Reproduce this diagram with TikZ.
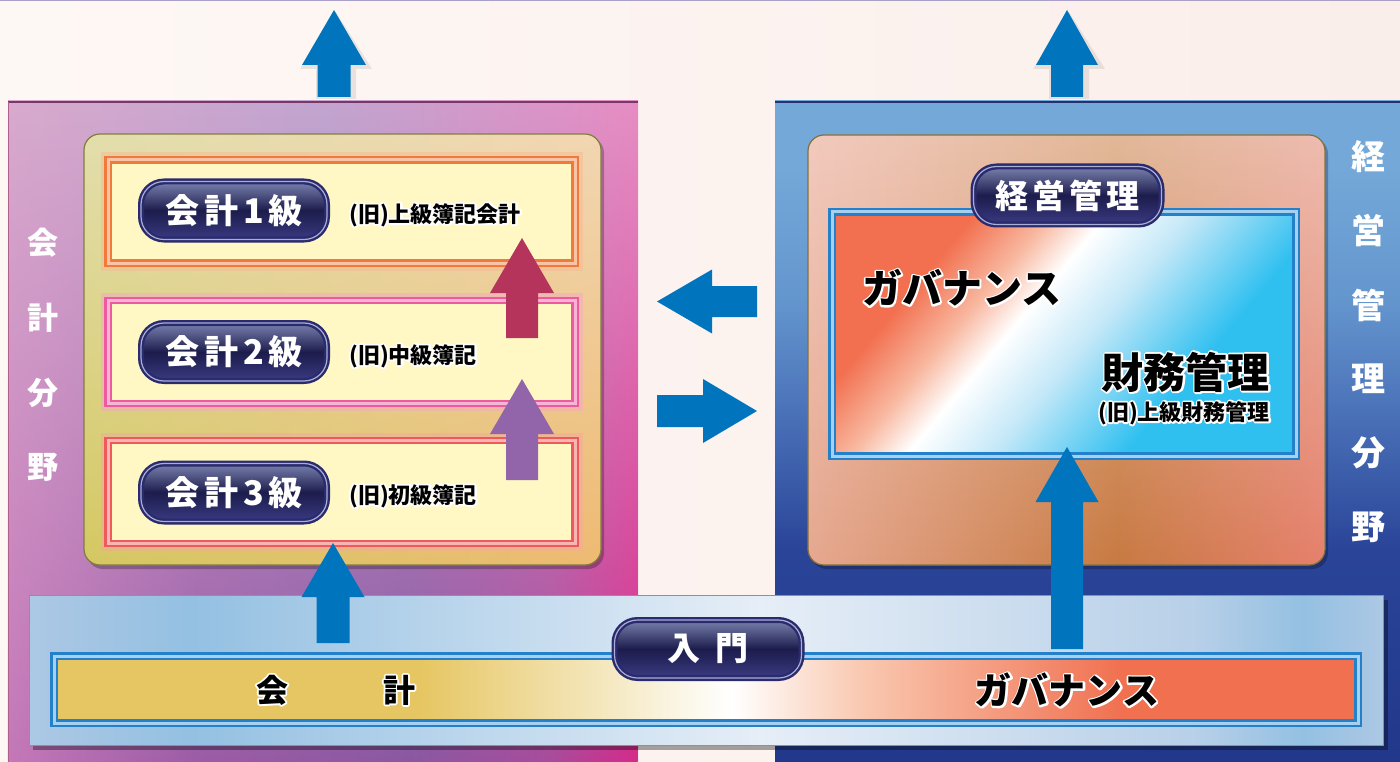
\documentclass[tikz,border=0pt]{standalone}
\usepackage{fontspec}
\setmainfont{Noto Sans CJK JP}
\usetikzlibrary{calc,fadings,shadings}

\definecolor{arrBlue}{HTML}{0075BE}
\definecolor{crimson}{HTML}{B4345C}
\definecolor{violet}{HTML}{9264AA}
\definecolor{cream}{HTML}{FFF8C4}
\definecolor{boxOrange}{HTML}{F07A3A}
\definecolor{boxPink}{HTML}{EE5AA0}
\definecolor{boxRed}{HTML}{EE5A5A}
\definecolor{bdOut}{HTML}{2A2A6E}
\definecolor{bdHi}{HTML}{A8AED4}
\definecolor{bdTop}{HTML}{7A82AE}
\definecolor{bdMid}{HTML}{1C1C4C}
\definecolor{bdBot}{HTML}{3A3A82}
\definecolor{bfOut}{HTML}{2480C8}
\definecolor{bfHi}{HTML}{A6D0F0}
\definecolor{lt1}{HTML}{D8AACE}
\definecolor{lt2}{HTML}{C2A6D0}
\definecolor{lt3}{HTML}{E68EC4}
\definecolor{lb1}{HTML}{C478B8}
\definecolor{lb2}{HTML}{9C5CA6}
\definecolor{lb3}{HTML}{8A58A2}
\definecolor{lb4}{HTML}{A84C9C}
\definecolor{lb5}{HTML}{D42A8A}
\definecolor{rp1}{HTML}{22388A}
\definecolor{rp2}{HTML}{2A4498}
\definecolor{rp3}{HTML}{4C74BA}
\definecolor{rp4}{HTML}{6496CE}
\definecolor{rp5}{HTML}{74A8D8}
\definecolor{bn1}{HTML}{ACC8E4}
\definecolor{bn2}{HTML}{94C0E2}
\definecolor{bn3}{HTML}{E6EEF7}
\definecolor{bn4}{HTML}{B8D0E8}
\definecolor{st1}{HTML}{E6C662}
\definecolor{st2}{HTML}{F9C8B0}
\definecolor{st3}{HTML}{F07050}
\definecolor{gv1}{HTML}{F27050}
\definecolor{gv2}{HTML}{F8B8A0}
\definecolor{gv3}{HTML}{C4E8F8}
\definecolor{gv4}{HTML}{30C0F0}
\definecolor{rt1}{HTML}{F2CABE}
\definecolor{rt2}{HTML}{E2B898}
\definecolor{rt3}{HTML}{EEBCB0}
\definecolor{rb1}{HTML}{E6A890}
\definecolor{rb2}{HTML}{C87A42}
\definecolor{rb3}{HTML}{E6806C}
\definecolor{pageL}{HTML}{FEF8F5}
\definecolor{pageR}{HTML}{FAEEEA}
\definecolor{topLine}{HTML}{A8A0C8}
\definecolor{lpTop}{HTML}{7A3868}
\definecolor{lpEdge}{HTML}{B0608C}
\definecolor{rpTop}{HTML}{283070}
\definecolor{lpInUL}{HTML}{E2DEAC}
\definecolor{lpInUR}{HTML}{F2D6B2}
\definecolor{lpInLL}{HTML}{D4C862}
\definecolor{lpInLR}{HTML}{EEBA72}
\definecolor{lpInBd}{HTML}{827C40}
\definecolor{rpInBd}{HTML}{827040}
\definecolor{bandBd}{HTML}{7896B8}

\pgfdeclarehorizontalshading{leftTop}{100bp}{color(0bp)=(lt1); color(25bp)=(lt1); color(50bp)=(lt2); color(75bp)=(lt3); color(100bp)=(lt3)}
\pgfdeclarehorizontalshading{leftBot}{100bp}{color(0bp)=(lb1); color(25bp)=(lb1); color(40bp)=(lb2); color(57bp)=(lb3); color(68bp)=(lb4); color(75bp)=(lb5); color(100bp)=(lb5)}
\pgfdeclareverticalshading{rightPanel}{100bp}{color(0bp)=(rp1); color(25bp)=(rp1); color(41bp)=(rp2); color(52bp)=(rp3); color(60bp)=(rp4); color(70bp)=(rp5); color(100bp)=(rp5)}
\pgfdeclarehorizontalshading{band}{100bp}{color(0bp)=(bn1); color(25bp)=(bn1); color(31bp)=(bn2); color(52bp)=(bn3); color(68bp)=(bn4); color(72bp)=(bn2); color(75bp)=(bn1); color(100bp)=(bn1)}
\pgfdeclarehorizontalshading{stripe}{100bp}{color(0bp)=(st1); color(25bp)=(st1); color(39bp)=(st1); color(51bp)=(white); color(56bp)=(st2); color(66bp)=(st3); color(75bp)=(st3); color(100bp)=(st3)}
\pgfdeclarehorizontalshading{gov}{100bp}{color(0bp)=(gv1); color(25bp)=(gv1); color(30bp)=(gv1); color(38bp)=(gv2); color(44bp)=(white); color(53bp)=(gv3); color(67bp)=(gv4); color(100bp)=(gv4)}
\pgfdeclarehorizontalshading{rTop}{100bp}{color(0bp)=(rt1); color(25bp)=(rt1); color(55bp)=(rt2); color(75bp)=(rt3); color(100bp)=(rt3)}
\pgfdeclarehorizontalshading{rBot}{100bp}{color(0bp)=(rb1); color(25bp)=(rb1); color(55bp)=(rb2); color(75bp)=(rb3); color(100bp)=(rb3)}

\tikzfading[name=fadedown, top color=transparent!100, middle color=transparent!62, bottom color=transparent!0]

% white halo round black text: stroked copy, then the text itself
\newcommand\halo[1]{\leavevmode\rlap{\special{pdf:literal direct q 1 Tr 3.6 w 1 J 1 j 1 1 1 RG}#1\special{pdf:literal direct 0 Tr Q}}#1}

% block arrow: #1 colour, #2 tail, #3 tip, #4 half shaft, #5 half head, #6 head length
\newcommand\blockarrow[6]{%
  \coordinate (hb) at ($(#3)!#6!(#2)$);
  \fill[#1] (#3) -- ($(hb)!#5!90:(#3)$) -- ($(hb)!#4!90:(#3)$) -- ($(#2)!#4!90:(#3)$)
     -- ($(#2)!#4!-90:(#3)$) -- ($(hb)!#4!-90:(#3)$) -- ($(hb)!#5!-90:(#3)$) -- cycle;}

\begin{document}
\begin{tikzpicture}[x=1pt,y=-1pt,
  badge/.style={draw=bdOut, line width=2.4pt, double=bdHi, double distance=1.2pt,
    rounded corners=23pt, top color=bdTop, bottom color=bdBot, middle color=bdMid,
    text=white, inner sep=0pt, font=\fontsize{34}{34}\selectfont\bfseries},
  lvlbox/.style={draw=#1, double=#1!45!white, line width=2.4pt, double distance=3pt,
    fill=cream, minimum width=467pt, minimum height=103pt, inner sep=0pt},
  glow/.style={draw=#1!55!white, line width=11pt, opacity=0.45},
  sub/.style={anchor=west, text=black, inner sep=0pt, font=\fontsize{22}{22}\selectfont\bfseries},
  side/.style={text=white, inner sep=0pt, font=\fontsize{31}{31}\selectfont\bfseries},
  big/.style={text=black, inner sep=0pt, font=\fontsize{40}{40}\selectfont\bfseries},
  blueframe/.style={draw=bfOut, double=bfHi, line width=2.5pt, double distance=3pt, inner sep=0pt},
  panelshadow/.style={fill=black, opacity=0.25, rounded corners=16pt},
  arrshadow/.style={fill=black, opacity=0.08}
]
\useasboundingbox (0,0) rectangle (1400,762);
% page background
\shade[left color=pageL, right color=pageR] (0,0) rectangle (1400,762);
\draw[topLine, line width=1.5pt] (0,0.75) -- (1400,0.75);

% left panel
\shade[shading=leftTop] (8,101) rectangle (638,762);
\shade[shading=leftBot, path fading=fadedown] (8,101) rectangle (638,762);
\draw[lpTop, line width=2pt] (8,102) -- (638,102);
\draw[lpEdge, line width=0.8pt] (8.4,102) -- (8.4,762);

% right panel
\shade[shading=rightPanel] (775,101) rectangle (1400,762);
\draw[rpTop, line width=2pt] (775,102) -- (1400,102);

% inner panels
\fill[panelshadow] (87,137) rectangle (604,569);
\shade[draw=lpInBd, line width=1.2pt, rounded corners=16pt,
  upper left=lpInUL, upper right=lpInUR, lower left=lpInLL, lower right=lpInLR]
  (84,134) rectangle (601,565);

\fill[panelshadow] (811,138) rectangle (1328,569);
\shade[shading=rTop, rounded corners=16pt] (808,135) rectangle (1325,565);
\shade[shading=rBot, rounded corners=16pt, path fading=fadedown] (808,135) rectangle (1325,565);
\draw[rpInBd, line width=1.2pt, rounded corners=16pt] (808,135) rectangle (1325,565);

% level boxes
\draw[glow=boxOrange] (106,158) rectangle (577,265);
\draw[glow=boxPink]   (106,298.5) rectangle (577,405.5);
\draw[glow=boxRed]    (106,438.5) rectangle (577,545.5);
\node[lvlbox=boxOrange] (L1) at (341.5,211.5) {};
\node[lvlbox=boxPink]   (L2) at (341.5,352) {};
\node[lvlbox=boxRed]    (L3) at (341.5,492) {};

\node[badge, minimum width=186pt, minimum height=58pt] (b1) at (234,210.5) {会\kern5pt計\kern5pt1\kern5pt級};
\node[badge, minimum width=186pt, minimum height=58pt] (b2) at (234,352)   {会\kern5pt計\kern5pt2\kern5pt級};
\node[badge, minimum width=186pt, minimum height=58pt] (b3) at (234,492.5) {会\kern5pt計\kern5pt3\kern5pt級};

\node[sub] (s1) at (349,215) {\halo{(旧)上級簿記会計}};
\node[sub] (s2) at (349,356) {\halo{(旧)中級簿記}};
\node[sub] (s3) at (349,496) {\halo{(旧)初級簿記}};

% arrows inside left panel
\coordinate (a1t) at (522,338); \coordinate (a1h) at (522,238);
\blockarrow{crimson}{a1t}{a1h}{16pt}{32pt}{55pt}
\coordinate (a2t) at (522,480); \coordinate (a2h) at (522,379);
\blockarrow{violet}{a2t}{a2h}{16pt}{32pt}{55pt}

% governance box
\node[blueframe, minimum width=464pt, minimum height=244pt, shading=gov, shading angle=-40, shade] (gov) at (1064,334) {};
\node[badge, minimum width=188pt, minimum height=58pt, font=\fontsize{33}{33}\selectfont\bfseries] (bk) at (1067.5,195.5) {経\kern4pt営\kern4pt管\kern4pt理};
\node[big, anchor=west] (gv) at (862,288) {\halo{ガバナンス}};
\node[big, anchor=east, font=\fontsize{42}{42}\selectfont\bfseries] (zm) at (1270,372) {\halo{財務管理}};
\node[sub, anchor=east] (zm2) at (1270,413) {\halo{(旧)上級財務管理}};

% side labels
\node[side] (lv1) at (43,243) {会};
\node[side] (lv2) at (43,318) {計};
\node[side] (lv3) at (43,393) {分};
\node[side] (lv4) at (43,467) {野};
\node[side, font=\fontsize{34}{34}\selectfont\bfseries] (rv1) at (1368,157) {経};
\node[side, font=\fontsize{34}{34}\selectfont\bfseries] (rv2) at (1368,231) {営};
\node[side, font=\fontsize{34}{34}\selectfont\bfseries] (rv3) at (1368,305) {管};
\node[side, font=\fontsize{34}{34}\selectfont\bfseries] (rv4) at (1368,379) {理};
\node[side, font=\fontsize{34}{34}\selectfont\bfseries] (rv5) at (1368,453) {分};
\node[side, font=\fontsize{34}{34}\selectfont\bfseries] (rv6) at (1368,527) {野};

% bottom band
\fill[black, opacity=0.35] (33,600) rectangle (1388,750);
\shade[shading=band, draw=bandBd, line width=0.8pt] (29,595) rectangle (1383,745);
\node[blueframe, minimum width=1304pt, minimum height=67pt, shading=stripe, shade] (stripe) at (706,689.5) {};
\node[big, font=\fontsize{32}{32}\selectfont\bfseries] (k1) at (272,690) {\halo{会}};
\node[big, font=\fontsize{32}{32}\selectfont\bfseries] (k2) at (399,690) {\halo{計}};
\node[big, font=\fontsize{37}{37}\selectfont\bfseries] (k3) at (1067,690) {\halo{ガバナンス}};
\node[badge, minimum width=187pt, minimum height=58pt, font=\fontsize{33}{33}\selectfont\bfseries] (intro) at (708,649) {入\kern16pt門};

% blue arrows
\coordinate (ba1t) at (333,643); \coordinate (ba1h) at (333,543);
\blockarrow{arrBlue}{ba1t}{ba1h}{16.5pt}{31.5pt}{54pt}
\coordinate (ba2t) at (1067,649); \coordinate (ba2h) at (1067,447);
\blockarrow{arrBlue}{ba2t}{ba2h}{16pt}{31.5pt}{55pt}
\coordinate (ta1s) at (336,99); \coordinate (ta1x) at (336,12);
\blockarrow{arrshadow}{ta1s}{ta1x}{20pt}{36pt}{57pt}
\coordinate (ta2s) at (1069,99); \coordinate (ta2x) at (1069,12);
\blockarrow{arrshadow}{ta2s}{ta2x}{20pt}{36pt}{57pt}
\coordinate (ta1t) at (334,97); \coordinate (ta1h) at (334,10);
\blockarrow{arrBlue}{ta1t}{ta1h}{16.5pt}{32pt}{55pt}
\coordinate (ta2t) at (1067,97); \coordinate (ta2h) at (1067,10);
\blockarrow{arrBlue}{ta2t}{ta2h}{16pt}{31pt}{55pt}
\coordinate (ma1t) at (757,301.5); \coordinate (ma1h) at (657,301.5);
\blockarrow{arrBlue}{ma1t}{ma1h}{15.5pt}{32pt}{55pt}
\coordinate (ma2t) at (657,411); \coordinate (ma2h) at (757,411);
\blockarrow{arrBlue}{ma2t}{ma2h}{16pt}{32pt}{54pt}
\end{tikzpicture}
\end{document}
